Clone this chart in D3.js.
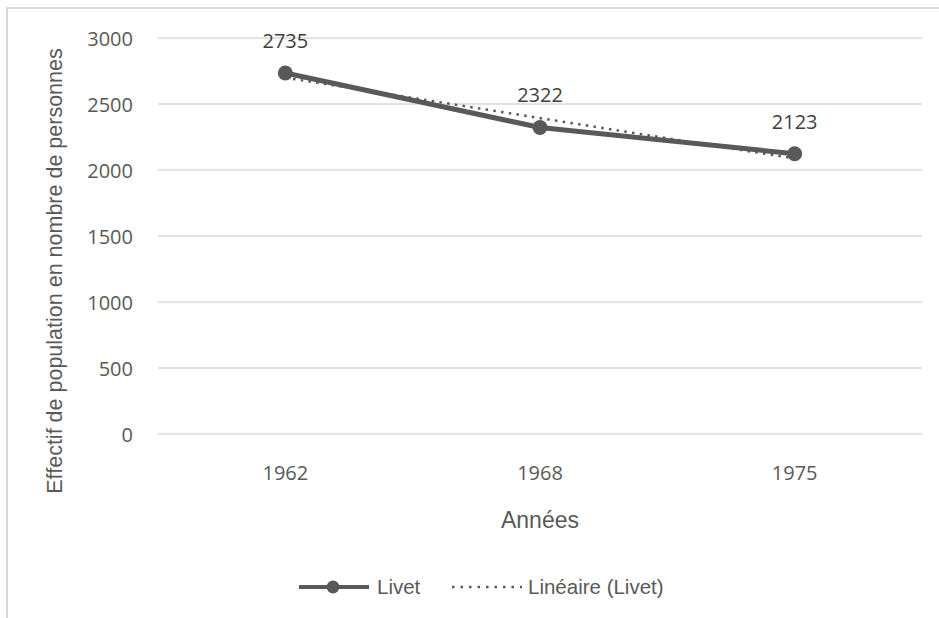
<!DOCTYPE html>
<html><head><meta charset="utf-8">
<script src="https://cdn.jsdelivr.net/npm/d3@7"></script>
<style>body{margin:0;background:#fff}svg{display:block}</style>
</head><body>
<svg id="c" width="939" height="618"></svg>
<script>
const categories = ["1962", "1968", "1975"];
const livet = [2735, 2322, 2123];
const yTicks = [0, 500, 1000, 1500, 2000, 2500, 3000];
const seriesName = "Livet";
const trendName = "Linéaire (Livet)";
const yTitle = "Effectif de population en nombre de personnes";
const xTitle = "Années";

const svg = d3.select("#c");
const col = "#595959", txt = "#595959";
const tickFont = "'Open Sans', 'Noto Sans', sans-serif";
const arial = "'Liberation Sans', Arial, sans-serif";

// border (partial, as in reference)
svg.append("path").attr("d","M7,618 V8 H939").attr("fill","none").attr("stroke","#d9d9d9").attr("stroke-width",2);

const x = d3.scaleBand().domain(categories).range([158, 922]);
const y = d3.scaleLinear().domain([0, 3000]).range([434, 38]);
const cx = d => x(d) + x.bandwidth()/2;

// gridlines
svg.append("g").selectAll("line").data(yTicks).join("line")
  .attr("x1",158).attr("x2",922).attr("y1",d=>y(d)).attr("y2",d=>y(d))
  .attr("stroke","#d9d9d9").attr("stroke-width",1.3);

// y axis labels
const yAxis = d3.axisLeft(y).tickValues(yTicks).tickFormat(d3.format("d")).tickSize(0).tickPadding(0);
const ga = svg.append("g").attr("transform","translate(133,0)").call(yAxis);
ga.select(".domain").remove();
ga.selectAll("text").attr("font-family",tickFont).attr("font-size",20).attr("fill",txt).attr("dy","0.35em");

// x axis labels
const xAxis = d3.axisBottom(x).tickSize(0).tickPadding(0);
const gx = svg.append("g").attr("transform","translate(0,473)").call(xAxis);
gx.select(".domain").remove();
gx.selectAll("text").attr("font-family",tickFont).attr("font-size",20).attr("fill",txt).attr("dy","0.35em");

// titles
svg.append("text").attr("x",540).attr("y",528).attr("text-anchor","middle")
  .attr("font-family",arial).attr("font-size",23).attr("fill",txt).text(xTitle);
svg.append("text").attr("transform","translate(62,271) rotate(-90)").attr("text-anchor","middle")
  .attr("font-family",arial).attr("font-size",21.5).attr("fill",txt).text(yTitle);

// trendline (least squares on category index)
const xs = livet.map((_,i)=>i+1);
const mx = d3.mean(xs), my = d3.mean(livet);
const slope = d3.sum(xs.map((xi,i)=>(xi-mx)*(livet[i]-my))) / d3.sum(xs.map(xi=>(xi-mx)**2));
const icpt = my - slope*mx;
const trend = categories.map((c,i)=>[cx(c), y(icpt + slope*(i+1))]);
svg.append("path").attr("d", d3.line()([trend[0], trend[trend.length-1]]))
  .attr("fill","none").attr("stroke",col).attr("stroke-width",2.5).attr("stroke-dasharray","2.5 5.3");

// series line
svg.append("path").datum(livet).attr("d", d3.line().x((d,i)=>cx(categories[i])).y(d=>y(d)))
  .attr("fill","none").attr("stroke",col).attr("stroke-width",5).attr("stroke-linejoin","round");
svg.append("g").selectAll("circle").data(livet).join("circle")
  .attr("cx",(d,i)=>cx(categories[i])).attr("cy",d=>y(d)).attr("r",7.5).attr("fill",col);

// data labels
svg.append("g").selectAll("text").data(livet).join("text")
  .attr("x",(d,i)=>cx(categories[i])).attr("y",d=>y(d)-32).attr("dy","0.35em").attr("text-anchor","middle")
  .attr("font-family",tickFont).attr("font-size",20).attr("fill","#404040").text(d=>d);

// legend
const ly = 587;
const lg = svg.append("g");
lg.append("line").attr("x1",299).attr("x2",369).attr("y1",ly).attr("y2",ly).attr("stroke",col).attr("stroke-width",4);
lg.append("circle").attr("cx",333).attr("cy",ly).attr("r",6.5).attr("fill",col);
lg.append("text").attr("x",377).attr("y",ly).attr("dy","0.36em").attr("font-family",arial).attr("font-size",20.5).attr("fill",txt).text(seriesName);
lg.append("line").attr("x1",452).attr("x2",522).attr("y1",ly).attr("y2",ly).attr("stroke",col).attr("stroke-width",2.5).attr("stroke-dasharray","2.5 6");
lg.append("text").attr("x",528).attr("y",ly).attr("dy","0.36em").attr("font-family",arial).attr("font-size",20.5).attr("fill",txt).text(trendName);
</script>
</body></html>
